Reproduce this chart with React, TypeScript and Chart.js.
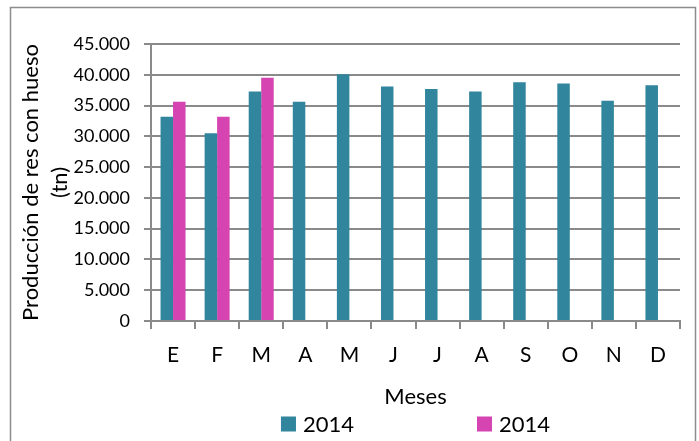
import React, { useEffect, useRef } from "react";
import { Chart, registerables } from "chart.js";

Chart.register(...registerables);

const months = ["E", "F", "M", "A", "M", "J", "J", "A", "S", "O", "N", "D"];
const seriesALabel = "2014";
const seriesBLabel = "2014";
const seriesA = [33200, 30500, 37300, 35600, 40100, 38100, 37700, 37300, 38800, 38600, 35800, 38300];
const seriesB = [35600, 33200, 39500, null, null, null, null, null, null, null, null, null];
const yTitle = ["Producción de res con hueso", "(tn)"];
const xTitle = "Meses";

const FONT = "Lato";
const GRID = "#8a8a8a";

function fmt(v: number): string {
  return String(Math.round(v)).replace(/\B(?=(\d{3})+(?!\d))/g, ".");
}

const framePlugin = {
  id: "frame",
  beforeDraw(chart: any) {
    const ctx = chart.ctx;
    ctx.save();
    ctx.fillStyle = "#ffffff";
    ctx.fillRect(0, 0, chart.width, chart.height);
    ctx.strokeStyle = "#8c8c8c";
    ctx.lineWidth = 1.5;
    ctx.strokeRect(10.5, 7.5, 685, 450);
    ctx.restore();
  },
};

const legendPlugin = {
  id: "customLegend",
  afterDraw(chart: any) {
    const ctx = chart.ctx;
    const area = chart.chartArea;
    const box = 15;
    const gapText = 7;
    const gapItems = 123;
    ctx.save();
    ctx.font = `22px ${FONT}`;
    ctx.textBaseline = "middle";
    ctx.textAlign = "left";
    const items = chart.data.datasets.map((d: any) => ({
      label: d.label,
      color: d.backgroundColor,
      w: box + gapText + ctx.measureText(d.label).width,
    }));
    const total = items.reduce((s: number, it: any) => s + it.w, 0) + gapItems * (items.length - 1);
    let x = (area.left + area.right) / 2 - total / 2;
    const cy = 424;
    for (const it of items) {
      ctx.fillStyle = it.color;
      ctx.fillRect(x, cy - box / 2, box, box);
      ctx.fillStyle = "#000000";
      ctx.fillText(it.label, x + box + gapText, cy + 1);
      x += it.w + gapItems;
    }
    ctx.restore();
  },
};

export default function App() {
  const ref = useRef<HTMLCanvasElement | null>(null);
  useEffect(() => {
    document.body.style.margin = "0";
    const canvas = ref.current;
    if (!canvas) return;
    const chart = new Chart(canvas, {
      type: "bar",
      data: {
        labels: months,
        datasets: [
          { label: seriesALabel, data: seriesA, backgroundColor: "#31859c", categoryPercentage: 0.567, barPercentage: 1 },
          { label: seriesBLabel, data: seriesB as any, backgroundColor: "#d544b0", categoryPercentage: 0.567, barPercentage: 1 },
        ],
      },
      options: {
        animation: false,
        responsive: false,
        maintainAspectRatio: false,
        layout: { padding: { top: 44, right: 19, bottom: 0, left: 0 } },
        plugins: {
          legend: { display: false },
          tooltip: { enabled: false },
        },
        scales: {
          x: {
            grid: { drawOnChartArea: false, drawTicks: true, tickLength: 8, color: GRID, lineWidth: 2 },
            border: { display: true, color: GRID, width: 2 },
            ticks: { color: "#000000", font: { family: FONT, size: 21 }, padding: 14, maxRotation: 0, autoSkip: false },
            title: { display: true, text: xTitle, color: "#000000", font: { family: FONT, size: 22 }, padding: { top: 0, bottom: 31 } },
            afterFit(scale: any) {
              scale.height = 120;
            },
          },
          y: {
            min: 0,
            max: 45000,
            grid: { color: GRID, lineWidth: 2, tickLength: 7 },
            border: { display: true, color: GRID, width: 2 },
            ticks: { stepSize: 5000, color: "#000000", font: { family: FONT, size: 18 }, padding: 14, callback: (v: any) => fmt(Number(v)) },
            title: { display: true, text: yTitle, color: "#000000", font: { family: FONT, size: 22, lineHeight: "29px" as any }, padding: { top: 16, bottom: 0 } },
            afterFit(scale: any) {
              scale.width = 151;
            },
          },
        },
      },
      plugins: [framePlugin, legendPlugin],
    });
    return () => chart.destroy();
  }, []);
  return <canvas ref={ref} width={699} height={441} style={{ display: "block" }} />;
}
